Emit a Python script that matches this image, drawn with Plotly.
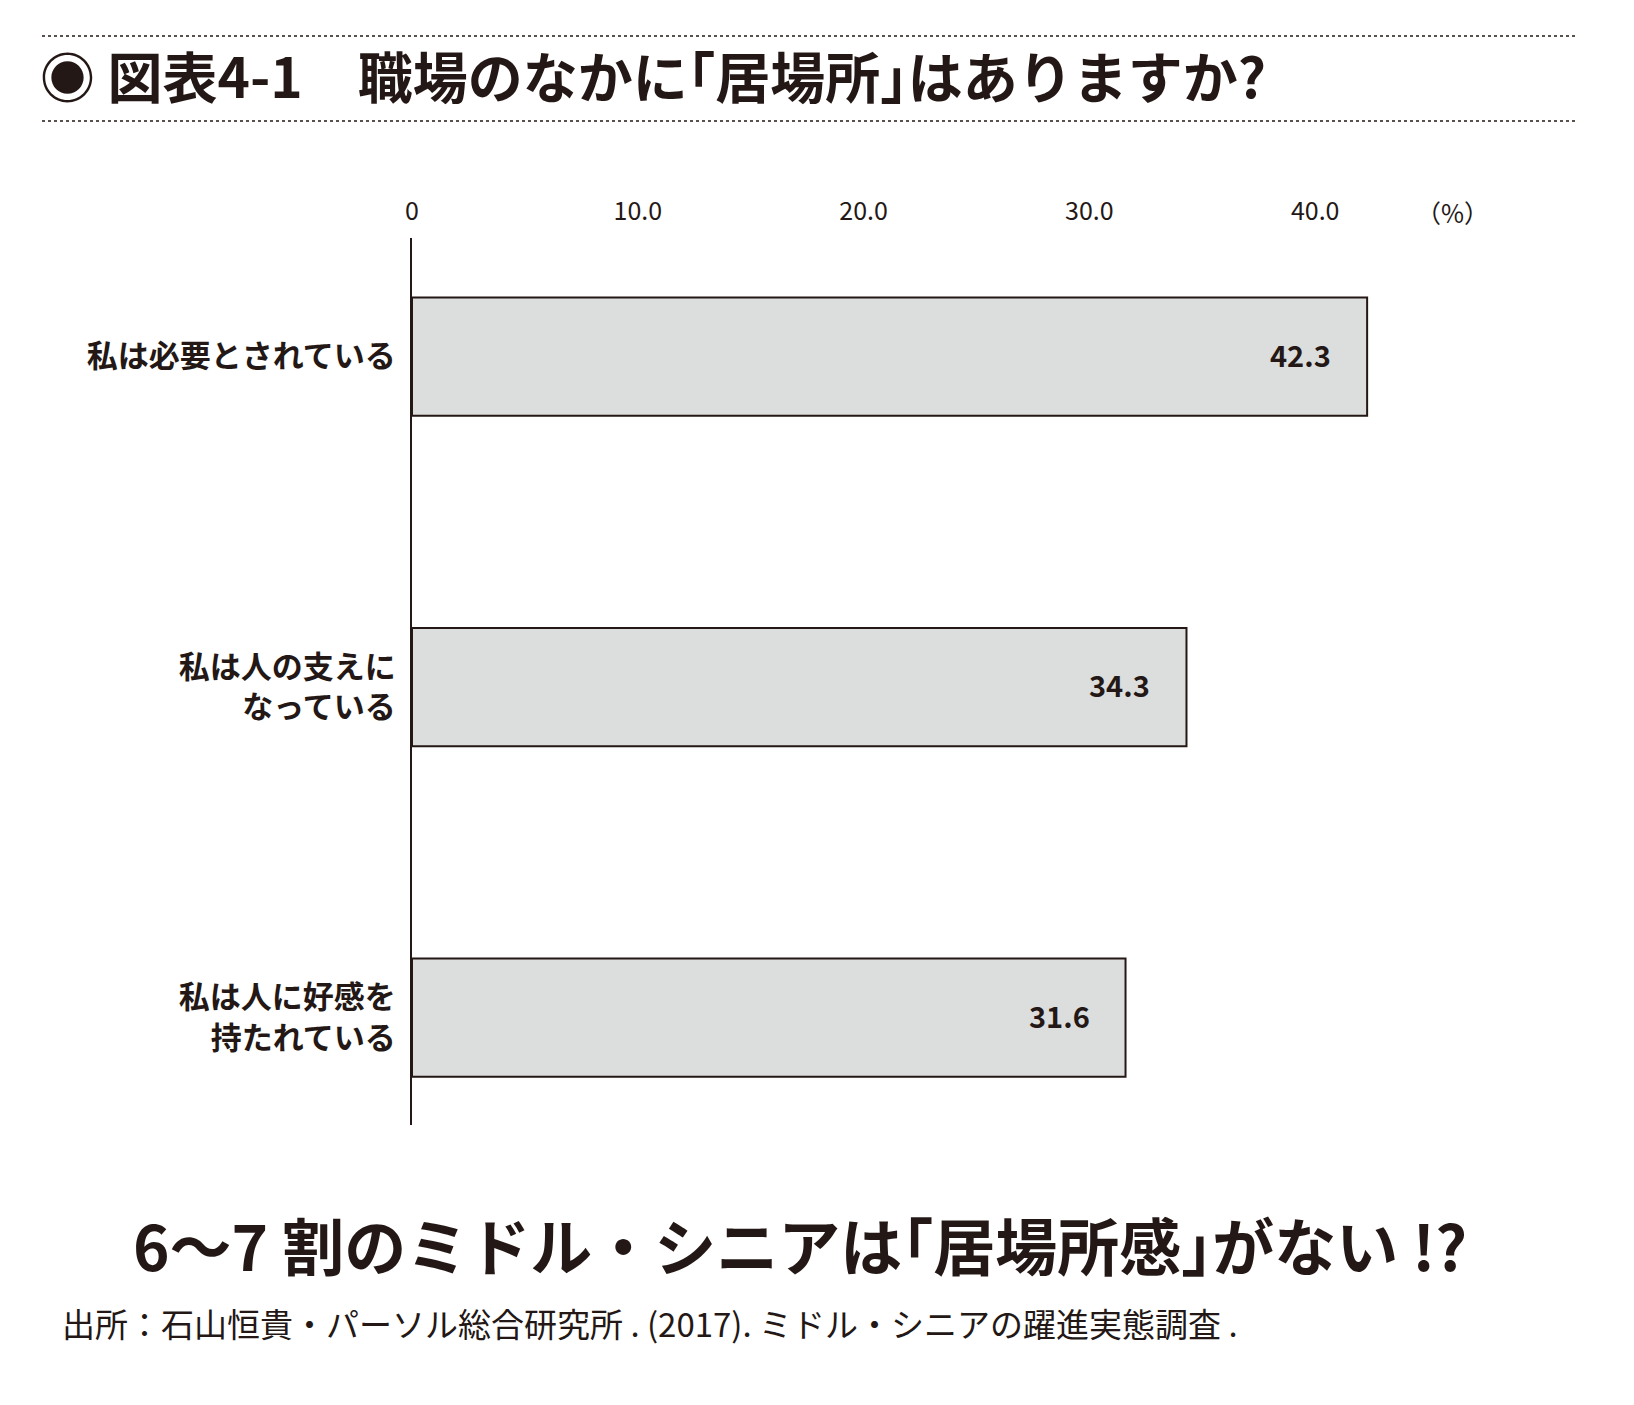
import plotly.graph_objects as go

# data
categories = ["私は必要とされている", "私は人の支えに<br>なっている", "私は人に好感を<br>持たれている"]
values = [42.3, 34.3, 31.6]
tick_vals = [0, 10, 20, 30, 40]
tick_text = ["0", "10.0", "20.0", "30.0", "40.0"]

title_text = "◉ 図表4-1　職場のなかに｢居場所｣はありますか?"
subtitle_text = "6〜7 割のミドル・シニアは｢居場所感｣がない !?"
source_text = "出所：石山恒貴・パーソル総合研究所 . (2017). ミドル・シニアの躍進実態調査 ."

INK = "#231815"
FONT = "Noto Sans CJK JP"
OFF = 8                     # the page body adds an 8px margin
W, H = 1634 - 2 * OFF, 1405 - 2 * OFF
L, R, T, B = 412 - OFF, 1576 - OFF, 238 - OFF, 1125 - OFF   # plot area in pixels


def px_x(px):
    return (px - OFF - L) / (R - L)


def px_y(py):
    return (B - (py - OFF)) / (B - T)


fig = go.Figure()
fig.add_trace(go.Bar(
    x=values, y=categories, orientation="h", width=0.358,
    marker=dict(color="#dcdddd", line=dict(color=INK, width=2)),
    hoverinfo="skip",
))

# value labels near the bar ends
for c, v in zip(categories, values):
    fig.add_annotation(x=v, y=c, xref="x", yref="y", text="<b>%.1f</b>" % v,
                       showarrow=False, xanchor="right", xshift=-34, yshift=3,
                       font=dict(family=FONT, size=29, color=INK))

annos = [
    dict(x=px_x(38), y=px_y(74), text="<b>" + title_text + "</b>", xanchor="left",
         font=dict(family=FONT, size=55, color=INK)),
    dict(x=px_x(1452), y=px_y(212), text="（%）", xanchor="center",
         font=dict(family=FONT, size=25, color=INK)),
    dict(x=px_x(800), y=px_y(1244), text="<b>" + subtitle_text + "</b>", xanchor="center",
         font=dict(family=FONT, size=62, color=INK)),
    dict(x=px_x(60), y=px_y(1323), text=source_text, xanchor="left",
         font=dict(family=FONT, size=33, color=INK)),
]
for a in annos:
    fig.add_annotation(xref="paper", yref="paper", showarrow=False, yanchor="middle", **a)

# dotted rules above and below the title
for py in (36, 121):
    fig.add_shape(type="line", xref="paper", yref="paper",
                  x0=px_x(42), x1=px_x(1576), y0=px_y(py), y1=px_y(py),
                  line=dict(color=INK, width=1.5, dash="dot"))

fig.update_layout(
    width=W, height=H,
    margin=dict(l=L, r=W - R, t=T, b=H - B),
    paper_bgcolor="white", plot_bgcolor="white",
    showlegend=False,
    font=dict(family=FONT, color=INK),
    xaxis=dict(side="top", range=[0, (R - L) / 22.58], tickvals=tick_vals, ticktext=tick_text,
               showgrid=False, zeroline=False, showline=False, ticks="",
               ticklabelstandoff=12, tickfont=dict(family=FONT, size=25, color=INK)),
    yaxis=dict(categoryorder="array", categoryarray=categories, range=[2.325, -0.359],
               showgrid=False, zeroline=False, showline=True, linecolor=INK, linewidth=2,
               ticks="", ticklabelstandoff=8,
               tickfont=dict(family=FONT, size=31, color=INK, weight="bold")),
)

fig.write_html("out.html")
